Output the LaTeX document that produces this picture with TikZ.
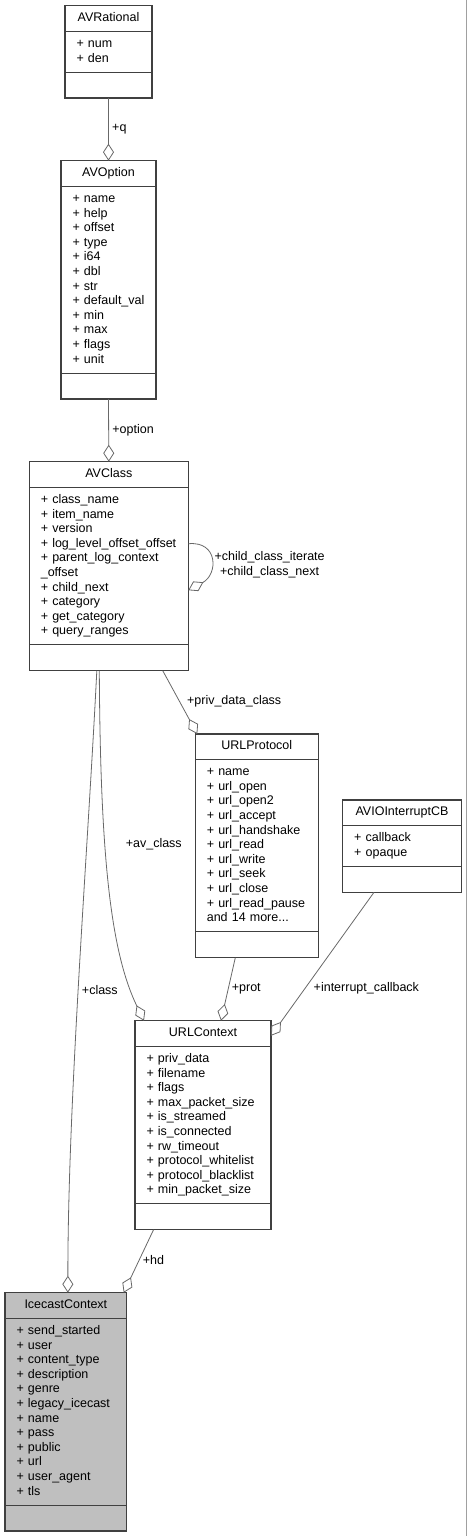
\documentclass[tikz,border=0pt]{standalone}
\usepackage{fontspec}
\setmainfont{Liberation Sans}
\usetikzlibrary{positioning,arrows.meta,shapes.multipart}
\definecolor{borde}{HTML}{404040}
\definecolor{linea}{HTML}{686868}
\definecolor{fondo}{HTML}{BFBFBF}
\definecolor{marco}{HTML}{A0A0A0}
\hyphenpenalty=10000
\exhyphenpenalty=10000
\newcommand{\clase}[1]{\hfill#1\hfill\null\strut}

\begin{document}
\begin{tikzpicture}[x=1pt, y=-1pt, font=\fontsize{12.5pt}{14.6pt}\selectfont,
      cls/.style={draw=borde, fill=white, line width=1.1pt, rectangle split, rectangle split parts=3,
                  inner xsep=11.5pt, inner ysep=5.1pt, outer sep=0pt, align=left, anchor=north},
      agg/.style={draw=linea, line width=0.8pt, {Diamond[length=17pt, width=11pt, fill=white]}-}]
    \useasboundingbox (0,0) rectangle (467,1536);
    \draw[marco] (466,0) -- (466,1536);
    % classes
    \node[cls, text width=64pt] (avrational) at (108.5,5.7)
      {\clase{AVRational}\nodepart{second}\strut+~num\\+~den\strut\nodepart{third}\strut};
    \node[cls, text width=72pt] (avoption) at (108.5,160.7)
      {\clase{AVOption}\nodepart{second}\strut+~name\\+~help\\+~offset\\+~type\\+~i64\\+~dbl\\+~str\\
       +~default\_val\\+~min\\+~max\\+~flags\\+~unit\strut\nodepart{third}\strut};
    \node[cls, text width=136pt] (avclass) at (108.8,461.7)
      {\clase{AVClass}\nodepart{second}\strut+~class\_name\\+~item\_name\\+~version\\
       +~log\_level\_offset\_offset\\+~parent\_log\_context\\\_offset\\+~child\_next\\+~category\\
       +~get\_category\\+~query\_ranges\strut\nodepart{third}\strut};
    \node[cls, text width=100pt, anchor=north west] (urlprotocol) at (195.3,734)
      {\clase{URLProtocol}\nodepart{second}\strut+~name\\+~url\_open\\+~url\_open2\\+~url\_accept\\
       +~url\_handshake\\+~url\_read\\+~url\_write\\+~url\_seek\\+~url\_close\\+~url\_read\_pause\\
       and 14 more...\strut\nodepart{third}\strut};
    \node[cls, text width=95.6pt, below right=66pt and 24.4pt of urlprotocol.north east] (aviointerruptcb)
      {\clase{AVIOInterruptCB}\nodepart{second}\strut+~callback\\+~opaque\strut\nodepart{third}\strut};
    \node[cls, text width=113pt, anchor=north west] (urlcontext) at (135,1020.7)
      {\clase{URLContext}\nodepart{second}\strut+~priv\_data\\+~filename\\+~flags\\+~max\_packet\_size\\
       +~is\_streamed\\+~is\_connected\\+~rw\_timeout\\+~protocol\_whitelist\\+~protocol\_blacklist\\
       +~min\_packet\_size\strut\nodepart{third}\strut};
    \node[cls, fill=fondo, text width=98.7pt, anchor=north west] (icecast) at (5,1292.7)
      {\clase{IcecastContext}\nodepart{second}\strut+~send\_started\\+~user\\+~content\_type\\
       +~description\\+~genre\\+~legacy\_icecast\\+~name\\+~pass\\+~public\\+~url\\+~user\_agent\\
       +~tls\strut\nodepart{third}\strut};
    % members
    \draw[agg] (avoption.north) -- node[right]{+q} (avrational.south);
    \draw[agg] (avclass.north) -- node[right]{+option} (avoption.south);
    \draw[agg] ([yshift=-24pt]avclass.east) .. controls +(30,-16) and +(30,-3) ..
      node[right, align=center, yshift=-5pt]{+child\_class\_iterate\\+child\_class\_next} ([yshift=22.5pt]avclass.east);
    \draw[agg] ([xshift=2pt]urlprotocol.north west) -- node[right=4pt, pos=0.52]{+priv\_data\_class} ([xshift=54pt]avclass.south);
    \draw[agg] ([xshift=9pt]urlcontext.north west) .. controls +(-34,-70) and +(1,181) ..
      node[right=17pt, pos=0.62]{+av\_class} ([xshift=-9.5pt]avclass.south);
    \draw[agg] ([xshift=2pt]icecast.north) .. controls +(0,-193) and +(-9,181) ..
      node[right, pos=0.48]{+class} ([xshift=-12pt]avclass.south);
    \draw[agg] ([xshift=18pt]urlcontext.north) -- node[right]{+prot} ([xshift=-21.5pt]urlprotocol.south);
    \draw[agg] ([yshift=89.5pt]urlcontext.east) -- node[right=5pt, pos=0.33]{+interrupt\_callback} ([xshift=-28pt]aviointerruptcb.south);
    \draw[agg] ([xshift=-3pt]icecast.north east) -- node[right, pos=0.52]{+hd} ([xshift=-49.5pt]urlcontext.south);
  \end{tikzpicture}
\end{document}
